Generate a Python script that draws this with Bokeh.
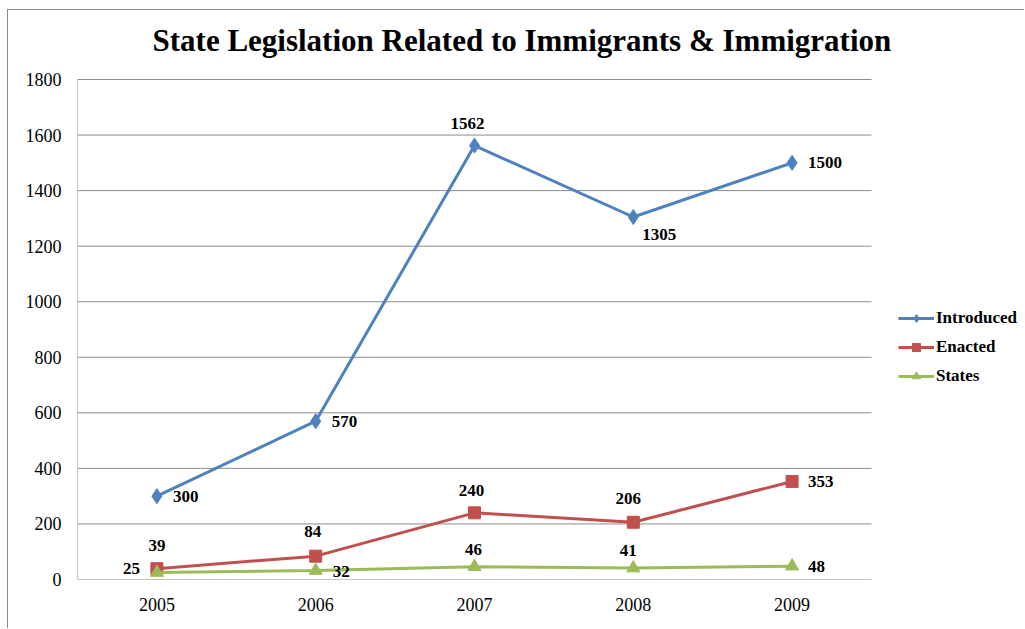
from bokeh.plotting import figure
from bokeh.models import (ColumnDataSource, Legend, LegendItem, LabelSet, Label,
                          FixedTicker, Range1d)
from bokeh.core.properties import value
from bokeh.embed import file_html
from bokeh.resources import INLINE

years = ["2005", "2006", "2007", "2008", "2009"]
introduced = [300, 570, 1562, 1305, 1500]
enacted = [39, 84, 240, 206, 353]
states = [25, 32, 46, 41, 48]
y_ticks = [0, 200, 400, 600, 800, 1000, 1200, 1400, 1600, 1800]

title_text = "State Legislation Related to Immigrants & Immigration"

SERIF = "Liberation Serif"
BLUE, RED, GREEN = "#4F81BD", "#C0504D", "#9BBB59"
GRID = "#8c8c8c"

n = len(years)
ymax = y_ticks[-1]
xs = [i + 0.5 for i in range(n)]

# The frame covers the whole chart box so that the legend and title (drawn
# inside it) are not clipped; the plot area proper is x in [0, n], y in [0, ymax].
PLOT_W, FRAME_W = 794, 948
PLOT_H, FRAME_H = 500, 569
p = figure(width=1017, height=619, output_backend="svg", toolbar_location=None,
           x_range=Range1d(0, n * FRAME_W / PLOT_W),
           y_range=Range1d(0, ymax * FRAME_H / PLOT_H),
           min_border_left=69, min_border_right=0, min_border_top=0,
           min_border_bottom=50)
p.styles = {"margin-left": "7px", "margin-top": "9px",
            "border-top": "1px solid #8c8c8c", "border-left": "1px solid #8c8c8c"}
p.outline_line_color = None
p.background_fill_color = "white"
p.border_fill_color = "white"

# axes
p.xaxis.ticker = FixedTicker(ticks=xs)
p.xaxis.major_label_overrides = {x: y for x, y in zip(xs, years)}
p.yaxis.ticker = FixedTicker(ticks=y_ticks)
for ax in (p.xaxis[0], p.yaxis[0]):
    ax.axis_line_color = None
    ax.major_tick_line_color = None
    ax.minor_tick_line_color = None
    ax.major_tick_out = 0
    ax.major_tick_in = 0
    ax.minor_tick_out = 0
    ax.major_label_text_font = SERIF
    ax.major_label_text_font_size = "18px"
    ax.major_label_text_color = "black"
p.yaxis.major_label_standoff = 16
p.xaxis.major_label_standoff = 18
p.xgrid.grid_line_color = None
p.ygrid.grid_line_color = None

# horizontal gridlines (incl. the category axis line at 0) and the value axis line
p.segment(x0=[0] * len(y_ticks), x1=[n] * len(y_ticks), y0=y_ticks, y1=y_ticks,
          line_color=GRID, line_width=1)
p.segment(x0=[0], x1=[0], y0=[0], y1=[ymax], line_color=GRID, line_width=1)

series = [
    ("Introduced", introduced, BLUE, "diamond", 15),
    ("Enacted", enacted, RED, "square", 12),
    ("States", states, GREEN, "triangle", 13),
]

# label offsets per point (style only): dx, dy (up), align
label_style = {
    "Introduced": [(16, 0, "left"), (16, 0, "left"), (-7, 22, "center"), (9, -17, "left"), (16, 0, "left")],
    "Enacted": [(0, 23, "center"), (-3, 25, "center"), (-3, 22, "center"), (-5, 24, "center"), (16, 0, "left")],
    "States": [(-17, 4, "right"), (17, -1, "left"), (-1, 17, "center"), (-5, 18, "center"), (16, 0, "left")],
}

items = []
for name, vals, color, marker, size in series:
    src = ColumnDataSource(dict(x=xs, y=vals))
    ln = p.line("x", "y", source=src, line_color=color, line_width=3)
    sc = p.scatter("x", "y", source=src, marker=marker, size=size,
                   fill_color=color, line_color=color)
    items.append(LegendItem(label=name, renderers=[ln, sc]))
    st = label_style[name]
    lsrc = ColumnDataSource(dict(
        x=xs, y=vals, text=[str(v) for v in vals],
        dx=[s[0] for s in st], dy=[s[1] for s in st], al=[s[2] for s in st]))
    p.add_layout(LabelSet(x="x", y="y", text="text", source=lsrc,
                          x_offset="dx", y_offset="dy", text_align="al",
                          text_baseline="middle", text_font=value(SERIF),
                          text_font_style="bold", text_font_size="17px",
                          text_color="black"))

legend = Legend(items=items, location=(821, 193), orientation="vertical",
                glyph_width=36, glyph_height=20, spacing=9, label_standoff=2,
                padding=0, margin=0, border_line_color=None,
                background_fill_alpha=0,
                label_text_font=SERIF, label_text_font_style="bold",
                label_text_font_size="17px", label_text_color="black")
p.add_layout(legend, "center")

p.add_layout(Label(x=75, y=539, x_units="screen", y_units="screen",
                   text=title_text, text_align="left", text_baseline="alphabetic",
                   text_font=SERIF, text_font_style="bold", text_font_size="31px",
                   text_color="black"))

open("out.html", "w").write(file_html(p, INLINE))
